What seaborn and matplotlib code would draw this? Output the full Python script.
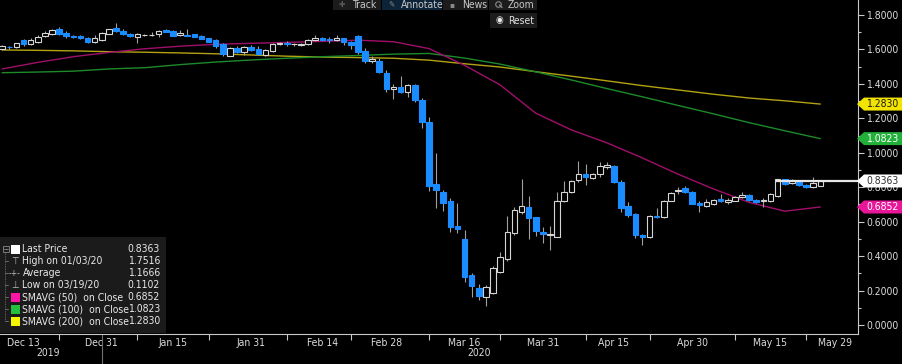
import numpy as np
import pandas as pd
import matplotlib
matplotlib.use("Agg")
import matplotlib.pyplot as plt
import matplotlib.transforms as mtransforms
from matplotlib.patches import Rectangle, Polygon
from matplotlib.lines import Line2D
from matplotlib.ticker import FixedLocator
import seaborn as sns

# ---------------- data ----------------
opens = [1.600, 1.616, 1.613, 1.657, 1.633, 1.646, 1.678, 1.688, 1.717, 1.697,
         1.678, 1.680, 1.668, 1.646, 1.655, 1.690, 1.722, 1.707, 1.690, 1.671,
         1.682, 1.682, 1.688, 1.713, 1.707, 1.682, 1.685, 1.688, 1.680, 1.665,
         1.655, 1.632, 1.564, 1.610, 1.587, 1.613, 1.603, 1.568, 1.591, 1.630,
         1.635, 1.630, 1.626, 1.630, 1.654, 1.665, 1.662, 1.657, 1.665, 1.646,
         1.678, 1.593, 1.532, 1.535, 1.465, 1.371, 1.380, 1.355, 1.394, 1.307,
         1.181, 0.819, 0.772, 0.720, 0.575, 0.499, 0.290, 0.213, 0.161, 0.188,
         0.310, 0.383, 0.532, 0.658, 0.687, 0.625, 0.542, 0.522, 0.513, 0.720,
         0.771, 0.842, 0.877, 0.856, 0.879, 0.916, 0.925, 0.832, 0.691, 0.645,
         0.523, 0.509, 0.633, 0.629, 0.722, 0.780, 0.797, 0.774, 0.707, 0.693,
         0.703, 0.730, 0.713, 0.722, 0.745, 0.755, 0.726, 0.720, 0.720, 0.749,
         0.846, 0.823, 0.836, 0.813, 0.803, 0.809]
highs = [1.625, 1.622, 1.640, 1.662, 1.665, 1.684, 1.709, 1.716, 1.732, 1.710,
         1.682, 1.684, 1.672, 1.684, 1.700, 1.720, 1.7516, 1.717, 1.695, 1.695,
         1.690, 1.703, 1.712, 1.717, 1.712, 1.712, 1.717, 1.692, 1.684, 1.668,
         1.660, 1.636, 1.615, 1.622, 1.618, 1.626, 1.618, 1.605, 1.640, 1.645,
         1.650, 1.640, 1.636, 1.660, 1.684, 1.675, 1.672, 1.684, 1.668, 1.650,
         1.682, 1.606, 1.560, 1.549, 1.481, 1.398, 1.448, 1.400, 1.398, 1.316,
         1.206, 1.001, 0.784, 0.736, 0.707, 0.552, 0.300, 0.236, 0.232, 0.340,
         0.426, 0.633, 0.683, 0.846, 0.749, 0.630, 0.571, 0.575, 0.774, 0.836,
         0.842, 0.954, 0.933, 0.885, 0.945, 0.948, 0.930, 0.840, 0.716, 0.650,
         0.530, 0.640, 0.678, 0.725, 0.775, 0.799, 0.807, 0.780, 0.720, 0.730,
         0.732, 0.759, 0.736, 0.750, 0.770, 0.760, 0.730, 0.740, 0.765, 0.850,
         0.850, 0.850, 0.840, 0.818, 0.861, 0.842]
lows = [1.595, 1.605, 1.610, 1.622, 1.628, 1.636, 1.672, 1.685, 1.685, 1.665,
        1.668, 1.662, 1.640, 1.640, 1.650, 1.687, 1.703, 1.685, 1.672, 1.636,
        1.678, 1.680, 1.674, 1.700, 1.676, 1.678, 1.678, 1.670, 1.658, 1.642,
        1.610, 1.565, 1.560, 1.582, 1.568, 1.590, 1.568, 1.560, 1.588, 1.626,
        1.620, 1.622, 1.622, 1.626, 1.650, 1.655, 1.637, 1.652, 1.626, 1.603,
        1.572, 1.523, 1.522, 1.462, 1.351, 1.312, 1.350, 1.326, 1.297, 1.142,
        0.780, 0.681, 0.662, 0.542, 0.532, 0.251, 0.164, 0.145, 0.1102, 0.180,
        0.300, 0.373, 0.520, 0.645, 0.498, 0.517, 0.474, 0.436, 0.510, 0.715,
        0.765, 0.829, 0.813, 0.845, 0.860, 0.905, 0.825, 0.654, 0.630, 0.503,
        0.465, 0.505, 0.620, 0.622, 0.718, 0.761, 0.765, 0.700, 0.658, 0.688,
        0.698, 0.715, 0.700, 0.718, 0.740, 0.722, 0.710, 0.685, 0.716, 0.745,
        0.812, 0.818, 0.808, 0.798, 0.798, 0.805]
closes = [1.618, 1.612, 1.636, 1.632, 1.655, 1.674, 1.694, 1.713, 1.688, 1.678,
          1.672, 1.665, 1.646, 1.665, 1.697, 1.717, 1.707, 1.688, 1.678, 1.690,
          1.686, 1.686, 1.709, 1.703, 1.680, 1.695, 1.680, 1.674, 1.661, 1.646,
          1.622, 1.572, 1.610, 1.587, 1.613, 1.597, 1.572, 1.597, 1.632, 1.636,
          1.630, 1.633, 1.632, 1.657, 1.665, 1.657, 1.657, 1.665, 1.642, 1.626,
          1.587, 1.535, 1.545, 1.471, 1.371, 1.380, 1.355, 1.394, 1.307, 1.177,
          0.807, 0.784, 0.710, 0.571, 0.556, 0.277, 0.228, 0.170, 0.222, 0.333,
          0.393, 0.542, 0.668, 0.693, 0.619, 0.548, 0.528, 0.526, 0.720, 0.774,
          0.838, 0.877, 0.858, 0.879, 0.925, 0.929, 0.829, 0.678, 0.639, 0.523,
          0.509, 0.635, 0.625, 0.722, 0.765, 0.786, 0.771, 0.703, 0.697, 0.716,
          0.726, 0.720, 0.726, 0.745, 0.755, 0.726, 0.716, 0.724, 0.759, 0.846,
          0.817, 0.842, 0.813, 0.803, 0.823, 0.8363]

sma_idx = [0, 5, 10, 15, 20, 25, 30, 35, 40, 45, 50, 55, 60, 65, 70, 75, 80, 85,
           90, 95, 100, 105, 110, 115]
sma50 = [1.487, 1.525, 1.558, 1.583, 1.604, 1.619, 1.630, 1.636, 1.641, 1.647,
         1.654, 1.645, 1.605, 1.508, 1.394, 1.230, 1.133, 1.058, 0.970, 0.876,
         0.790, 0.712, 0.661, 0.6852]
sma100 = [1.465, 1.469, 1.474, 1.487, 1.494, 1.512, 1.527, 1.539, 1.549, 1.558,
          1.565, 1.573, 1.577, 1.550, 1.515, 1.470, 1.423, 1.373, 1.325, 1.275,
          1.226, 1.175, 1.128, 1.0823]
sma200 = [1.597, 1.595, 1.592, 1.587, 1.584, 1.580, 1.575, 1.568, 1.561, 1.556,
          1.553, 1.549, 1.538, 1.517, 1.498, 1.471, 1.445, 1.418, 1.390, 1.365,
          1.340, 1.318, 1.302, 1.283]

date_labels = ["Dec 13", "Dec 31", "Jan 15", "Jan 31", "Feb 14", "Feb 28",
               "Mar 16", "Mar 31", "Apr 15", "Apr 30", "May 15", "May 29"]
date_pos = [3, 14, 24, 35, 45, 54, 65, 76, 86, 97, 108, 117]
minor_pos = [8, 19, 29, 40, 49, 60, 70, 82, 91, 103, 113]
year_labels = ["2019", "2020"]

y_ticks = [0.0, 0.2, 0.4, 0.6, 0.8, 1.0, 1.2, 1.4, 1.6, 1.8]
y_minor = [0.1, 0.3, 0.5, 0.7, 0.9, 1.1, 1.3, 1.5, 1.7]

last_price = 0.8363
legend_labels = ["Last Price", "High on 01/03/20", "Average", "Low on 03/19/20",
                 "SMAVG (50)  on Close", "SMAVG (100)  on Close", "SMAVG (200)  on Close"]
legend_values = [0.8363, 1.7516, 1.1666, 0.1102, 0.6852, 1.0823, 1.2830]
tag_values = [1.2830, 1.0823, 0.8363, 0.6852]

toolbar_labels = ["Track", "Annotate", "News", "Zoom"]

# ---------------- style ----------------
sns.set_style("dark", rc={"axes.facecolor": "black", "figure.facecolor": "black"})
plt.rcParams['font.family'] = ['DejaVu Sans']
plt.rcParams['font.stretch'] = 'condensed'

W, H = 902, 364
fig = plt.figure(figsize=(W / 100, H / 100), dpi=100, facecolor="black")
ax = fig.add_axes([0, (H - 334) / H, 858 / W, 334 / H])
ax.set_facecolor("black")

def fx(px):
    return px / W

def fy(py):
    return 1 - py / H

# ---------------- candles ----------------
o = np.array(opens); h = np.array(highs); l = np.array(lows); c = np.array(closes)
idx = np.arange(len(o))
up = c >= o
bottoms = np.minimum(o, c)
heights = np.maximum(np.abs(c - o), 0.0015)

ax.vlines(idx, l, h, colors="#a0a0a0", linewidth=0.8, zorder=2)
ax.bar(idx[up], heights[up], bottom=bottoms[up], width=0.78, facecolor="black",
       edgecolor="#d6d6d6", linewidth=0.8, zorder=3)
ax.bar(idx[~up], heights[~up], bottom=bottoms[~up], width=0.78, facecolor="#1a8cff",
       edgecolor="#1a8cff", linewidth=0.8, zorder=3)

# ---------------- moving averages ----------------
sma_df = pd.DataFrame({"i": sma_idx, "s50": sma50, "s100": sma100, "s200": sma200})
sns.lineplot(data=sma_df, x="i", y="s200", color="#b3a312", linewidth=1.0, ax=ax, zorder=1.5)
sns.lineplot(data=sma_df, x="i", y="s100", color="#1d8a2a", linewidth=1.0, ax=ax, zorder=1.5)
sns.lineplot(data=sma_df, x="i", y="s50", color="#a00f6a", linewidth=1.0, ax=ax, zorder=1.5)

xmin, xmax = -0.31, 120.3
ax.hlines(last_price, 108.8, xmax, colors="#e6e6e6", linewidth=1.6, zorder=4)

ax.set_xlim(xmin, xmax)
ax.set_ylim(-0.0523, 1.8873)
ax.set_xlabel("")
ax.set_ylabel("")
ax.grid(False)

# ---------------- axes ----------------
for s in ["left", "top"]:
    ax.spines[s].set_visible(False)
for s in ["right", "bottom"]:
    ax.spines[s].set_visible(True)
    ax.spines[s].set_color("#c8c8c8")
    ax.spines[s].set_linewidth(0.8)

ax.yaxis.tick_right()
ax.yaxis.set_major_locator(FixedLocator(y_ticks))
ax.yaxis.set_minor_locator(FixedLocator(y_minor))
ax.set_yticklabels([f"{v:.4f}" for v in y_ticks])
ax.tick_params(axis="y", which="major", right=True, left=False, labelright=True,
               labelleft=False, direction="out", length=4, width=0.8,
               color="#c8c8c8", labelcolor="#dcdcdc", labelsize=7.5, pad=2)
ax.tick_params(axis="y", which="minor", right=True, left=False, direction="out",
               length=2.5, width=0.8, color="#c8c8c8")

ax.xaxis.set_major_locator(FixedLocator(date_pos))
ax.xaxis.set_minor_locator(FixedLocator(minor_pos))
ax.set_xticklabels(date_labels)
ax.tick_params(axis="x", which="major", bottom=True, length=0, labelcolor="#dcdcdc",
               labelsize=7.5, pad=3)
ax.tick_params(axis="x", which="minor", bottom=True, direction="out", length=4,
               width=0.8, color="#c8c8c8")

# year row
fig.text(fx(48), fy(353), year_labels[0], color="#dcdcdc", fontsize=7.5, ha="center", va="center")
fig.text(fx(479), fy(353), year_labels[1], color="#dcdcdc", fontsize=7.5, ha="center", va="center")
fig.add_artist(Line2D([fx(102), fx(102)], [fy(335), fy(364)], color="#707070", linewidth=0.8))

# ---------------- price tags ----------------
blend = mtransforms.blended_transform_factory(fig.transFigure, ax.transData)
tag_face = ["#f2e400", "#22b03a", "#ffffff", "#e8179a"]
tag_txt = ["#1a1a1a", "#ffffff", "#303030", "#ffffff"]
hh = 6.5 / 172.2
for v, fc, tc in zip(tag_values, tag_face, tag_txt):
    poly = Polygon([(fx(857), v), (fx(864), v + hh), (1.0, v + hh), (1.0, v - hh), (fx(864), v - hh)],
                   closed=True, facecolor=fc, edgecolor="none", transform=blend, zorder=10)
    fig.add_artist(poly)
    fig.text(fx(866), v, f"{v:.4f}", transform=blend, color=tc, fontsize=7.5,
             ha="left", va="center", zorder=11)

# ---------------- legend panel ----------------
fig.add_artist(Rectangle((0, fy(333)), fx(166), (333 - 237) / H, facecolor="#1b1b1b",
                         edgecolor="none", zorder=8))
rows = [249, 261, 273, 285, 297, 309, 321]
sq_colors = {0: "#ffffff", 4: "#ff14a8", 5: "#22c03c", 6: "#f5f500"}
for k, (lab, val, ry) in enumerate(zip(legend_labels, legend_values, rows)):
    fig.text(fx(22.5), fy(ry), lab, color="#e8e8e8", fontsize=7.5, ha="left", va="center", zorder=9)
    fig.text(fx(160), fy(ry), f"{val:.4f}", color="#e8e8e8", fontsize=7.5, ha="right", va="center", zorder=9)
    if k in sq_colors:
        fig.add_artist(Rectangle((fx(10.5), fy(ry + 4.5)), fx(9), 9 / H, facecolor=sq_colors[k],
                                 edgecolor="none", zorder=9))
    fig.add_artist(Line2D([fx(5), fx(8)], [fy(ry), fy(ry)], color="#777777", linewidth=0.6, zorder=9))
fig.text(fx(15), fy(261), "\u22a4", color="#bbbbbb", fontsize=7, ha="center", va="center", zorder=9)
fig.text(fx(15), fy(273), "-+-", color="#bbbbbb", fontsize=6, ha="center", va="center", zorder=9)
fig.text(fx(15), fy(285), "\u22a5", color="#bbbbbb", fontsize=7, ha="center", va="center", zorder=9)
fig.add_artist(Line2D([fx(5), fx(5)], [fy(252), fy(321)], color="#777777", linewidth=0.6,
                      linestyle=(0, (1, 1)), zorder=9))
fig.add_artist(Rectangle((fx(2.5), fy(252)), fx(6), 6 / H, facecolor="none",
                         edgecolor="#888888", linewidth=0.6, zorder=9))
fig.add_artist(Line2D([fx(3.5), fx(7.5)], [fy(249), fy(249)], color="#888888", linewidth=0.6, zorder=9))

# ---------------- toolbar ----------------
btns = [(333, 381, "#1c1c1c", "\u271b", 342, 352.5),
        (382, 442, "#0d2338", "\u270e", 391, 401),
        (443, 488, "#1c1c1c", "\u25aa", 452, 462),
        (489, 537, "#1c1c1c", None, 499, 508)]
for (x0, x1, bg, icon, ix, tx), lab in zip(btns, toolbar_labels):
    fig.add_artist(Rectangle((fx(x0), fy(10)), fx(x1 - x0), 10 / H, facecolor=bg,
                             edgecolor="none", zorder=12))
    if icon is not None:
        fig.text(fx(ix), fy(4.5), icon, color="#8a8a8a", fontsize=6, ha="center", va="center",
                 zorder=13)
    else:
        # magnifier glyph drawn as a small ring with handle
        fig.add_artist(Line2D([fx(ix - 1)], [fy(3.5)], marker="o", markersize=4, markerfacecolor="none",
                              markeredgecolor="#8a8a8a", markeredgewidth=0.8, zorder=13))
        fig.add_artist(Line2D([fx(ix + 0.5), fx(ix + 3)], [fy(5), fy(7.5)], color="#8a8a8a",
                              linewidth=1.0, zorder=13))
    fig.text(fx(tx), fy(4.5), lab, color="#c8c8c8", fontsize=7.5, ha="left", va="center", zorder=13)
fig.add_artist(Rectangle((fx(490), fy(28)), fx(47), 15 / H, facecolor="#1c1c1c",
                         edgecolor="none", zorder=12))
fig.text(fx(499), fy(20.5), "\u25c9", color="#e8e8e8", fontsize=7, ha="center", va="center", zorder=13)
fig.text(fx(508), fy(20.5), "Reset", color="#e0e0e0", fontsize=7.5, ha="left", va="center", zorder=13)

fig.savefig("out.png", dpi=100, facecolor="black")
